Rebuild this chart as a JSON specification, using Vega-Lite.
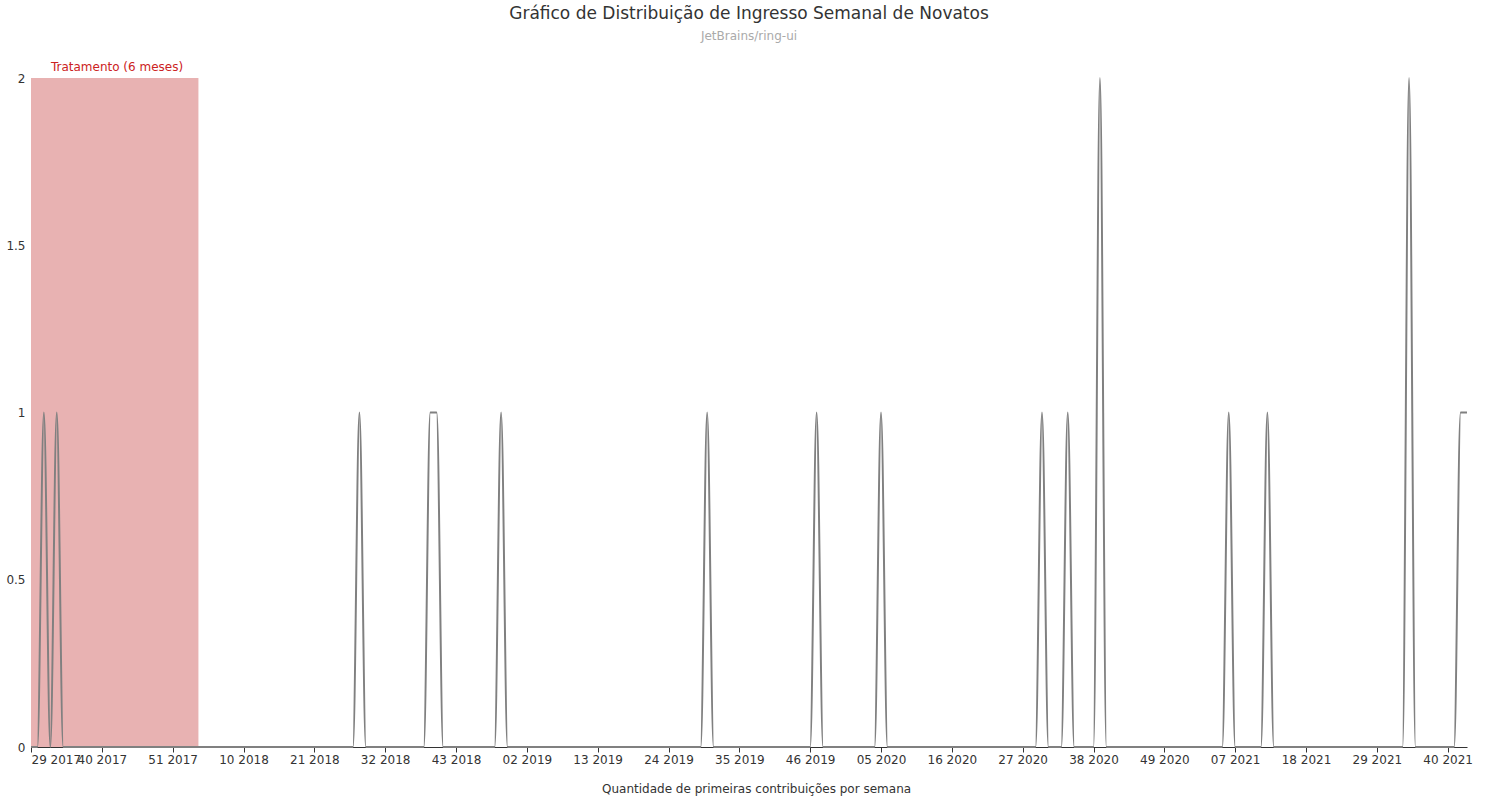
{
  "$schema": "https://vega.github.io/schema/vega-lite/v6.json",
  "autosize": {"type": "fit", "contains": "padding"},
  "width": 1500,
  "height": 800,
  "padding": {"left": 5, "right": 28, "top": 5, "bottom": 5},
  "title": {
    "text": "Gráfico de Distribuição de Ingresso Semanal de Novatos",
    "subtitle": "JetBrains/ring-ui",
    "font": "DejaVu Sans",
    "fontSize": 17,
    "fontWeight": "normal",
    "color": "#333",
    "subtitleFont": "DejaVu Sans",
    "subtitleColor": "#aaa",
    "subtitleFontSize": 12,
    "subtitlePadding": 8,
    "offset": 18
  },
  "datasets": {
    "weeks": [
      {"w": 0, "c": 0}, {"w": 1, "c": 0}, {"w": 2, "c": 1}, {"w": 3, "c": 0}, {"w": 4, "c": 1}, {"w": 5, "c": 0},
      {"w": 50, "c": 0}, {"w": 51, "c": 1}, {"w": 52, "c": 0},
      {"w": 61, "c": 0}, {"w": 62, "c": 1}, {"w": 63, "c": 1}, {"w": 64, "c": 0},
      {"w": 72, "c": 0}, {"w": 73, "c": 1}, {"w": 74, "c": 0},
      {"w": 104, "c": 0}, {"w": 105, "c": 1}, {"w": 106, "c": 0},
      {"w": 121, "c": 0}, {"w": 122, "c": 1}, {"w": 123, "c": 0},
      {"w": 131, "c": 0}, {"w": 132, "c": 1}, {"w": 133, "c": 0},
      {"w": 156, "c": 0}, {"w": 157, "c": 1}, {"w": 158, "c": 0},
      {"w": 160, "c": 0}, {"w": 161, "c": 1}, {"w": 162, "c": 0},
      {"w": 165, "c": 0}, {"w": 166, "c": 2}, {"w": 167, "c": 0},
      {"w": 185, "c": 0}, {"w": 186, "c": 1}, {"w": 187, "c": 0},
      {"w": 191, "c": 0}, {"w": 192, "c": 1}, {"w": 193, "c": 0},
      {"w": 213, "c": 0}, {"w": 214, "c": 2}, {"w": 215, "c": 0},
      {"w": 221, "c": 0}, {"w": 222, "c": 1}, {"w": 223, "c": 1}
    ],
    "periodo": [
      {"inicio": 0, "fim": 26, "rotulo": "Tratamento (6 meses)", "serie": "Quantidade de primeiras contribuições por semana"}
    ]
  },
  "layer": [
    {
      "data": {"name": "periodo"},
      "mark": {"type": "rect", "opacity": 0.45},
      "encoding": {
        "x": {"field": "inicio", "type": "quantitative"},
        "x2": {"field": "fim"},
        "y": {"datum": 0, "type": "quantitative"},
        "y2": {"datum": 2},
        "color": {
          "field": "serie",
          "type": "nominal",
          "scale": {"range": ["#cc5555"]},
          "legend": {"orient": "bottom", "title": null, "symbolType": "stroke", "symbolStrokeWidth": 2, "labelLimit": 0, "labelFontSize": 12, "labelColor": "#333", "labelFont": "DejaVu Sans"}
        }
      }
    },
    {
      "data": {"name": "periodo"},
      "mark": {"type": "text", "color": "#cc2222", "fontSize": 12, "font": "DejaVu Sans", "dy": -11},
      "encoding": {
        "x": {"field": "inicio", "type": "quantitative"},
        "y": {"datum": 2, "type": "quantitative"},
        "text": {"field": "rotulo"},
        "xOffset": {"value": 86}
      }
    },
    {
      "data": {"name": "weeks"},
      "mark": {"type": "line", "interpolate": "monotone", "color": "#808080", "strokeWidth": 2},
      "encoding": {
        "x": {
          "field": "w",
          "type": "quantitative",
          "scale": {"domain": [0, 223], "nice": false, "zero": false},
          "axis": {
            "title": null,
            "grid": false,
            "labelOverlap": false,
            "values": [0, 11, 22, 33, 44, 55, 66, 77, 88, 99, 110, 121, 132, 143, 154, 165, 176, 187, 198, 209, 220],
            "labelExpr": "['29 2017','40 2017','51 2017','10 2018','21 2018','32 2018','43 2018','02 2019','13 2019','24 2019','35 2019','46 2019','05 2020','16 2020','27 2020','38 2020','49 2020','07 2021','18 2021','29 2021','40 2021'][round(datum.value/11)]",
            "labelFontSize": 12,
            "labelColor": "#333",
            "labelFont": "DejaVu Sans",
            "domainColor": "#333",
            "tickColor": "#333"
          }
        },
        "y": {
          "field": "c",
          "type": "quantitative",
          "scale": {"domain": [0, 2]},
          "axis": {
            "title": null,
            "values": [0, 0.5, 1, 1.5, 2],
            "format": "~g",
            "gridColor": "#ccc",
            "domain": false,
            "ticks": false,
            "labelFontSize": 12,
            "labelColor": "#333",
            "labelFont": "DejaVu Sans",
            "labelPadding": 6
          }
        }
      }
    }
  ],
  "config": {
    "view": {"stroke": null},
    "legend": {"layout": {"bottom": {"anchor": "middle"}}}
  }
}
